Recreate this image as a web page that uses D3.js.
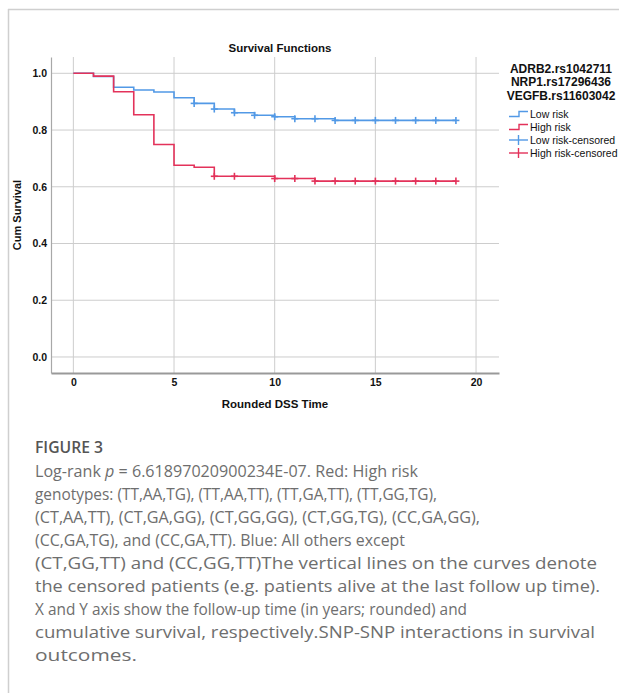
<!DOCTYPE html>
<html lang="en">
<head>
<meta charset="UTF-8">
<title>Survival Functions</title>
<script src="https://d3js.org/d3.v7.min.js"></script>
<style>
    body { margin: 0; background: #fff; }
    svg { display: block; }
</style>
</head>
<body>
<div id="chart"></div>
<script>
    // Kaplan-Meier steps (time, cumulative survival)
    const lowTimes = [0, 1, 2, 3, 4, 5, 6, 7, 8, 9, 10, 11, 13];
    const lowSurv = [1.0, 0.989, 0.951, 0.941, 0.934, 0.914, 0.894, 0.874, 0.861, 0.852, 0.847, 0.840, 0.834];
    const highTimes = [0, 1, 2, 3, 4, 5, 6, 7, 10, 12];
    const highSurv = [1.0, 0.990, 0.935, 0.854, 0.749, 0.676, 0.669, 0.637, 0.629, 0.620];
    const lastTime = 19;

    // censored observations (times)
    const lowCensored = [6, 7, 8, 9, 10, 11, 12, 13, 14, 15, 16, 17, 18, 19];
    const highCensored = [7, 8, 10, 11, 12, 13, 14, 15, 16, 17, 18, 19];

    const xTicks = [0, 5, 10, 15, 20];
    const yTicks = [0.0, 0.2, 0.4, 0.6, 0.8, 1.0];

    const legendTitle = ["ADRB2.rs1042711", "NRP1.rs17296436", "VEGFB.rs11603042"];
    const legendLabels = ["Low risk", "High risk", "Low risk-censored", "High risk-censored"];

    const caption = [
        ["Log-rank ", {i: "p"}, " = 6.61897020900234E-07. Red: High risk"],
        ["genotypes: (TT,AA,TG), (TT,AA,TT), (TT,GA,TT), (TT,GG,TG),"],
        ["(CT,AA,TT), (CT,GA,GG), (CT,GG,GG), (CT,GG,TG), (CC,GA,GG),"],
        ["(CC,GA,TG), and (CC,GA,TT). Blue: All others except"],
        ["(CT,GG,TT) and (CC,GG,TT)The vertical lines on the curves denote"],
        ["the censored patients (e.g. patients alive at the last follow up time)."],
        ["X and Y axis show the follow-up time (in years; rounded) and"],
        ["cumulative survival, respectively.SNP-SNP interactions in survival"],
        ["outcomes."]
    ];
    // rendered width of each caption line in the original layout
    const captionWidths = [383, 402, 445, 370, 562, 565, 432, 560, 102];

    const blue = "#5299e6";
    const red = "#e3325a";
    const grid = "#cdcdcd";

    const W = 619, H = 693;
    const svg = d3.select("#chart").append("svg")
        .attr("width", W).attr("height", H);

    // card border (top + left)
    svg.append("line").attr("x1", 8).attr("x2", W).attr("y1", 9.5).attr("y2", 9.5)
        .attr("stroke", "#cfcfcf").attr("stroke-width", 1.5);
    svg.append("line").attr("x1", 8.5).attr("x2", 8.5).attr("y1", 9).attr("y2", H)
        .attr("stroke", "#cfcfcf").attr("stroke-width", 1.5);

    // plot area
    const pLeft = 51, pRight = 499, pTop = 57, pBottom = 373;
    const x = d3.scaleLinear().domain([-1.11, 21.14]).range([pLeft, pRight]);
    const y = d3.scaleLinear().domain([-0.0565, 1.0575]).range([pBottom, pTop]);

    const g = svg.append("g");

    // grid
    g.selectAll(".vgrid").data(xTicks).enter().append("line")
        .attr("x1", d => x(d)).attr("x2", d => x(d))
        .attr("y1", pTop).attr("y2", pBottom)
        .attr("stroke", grid).attr("stroke-width", 1);
    g.selectAll(".hgrid").data(yTicks).enter().append("line")
        .attr("x1", pLeft).attr("x2", pRight)
        .attr("y1", d => y(d)).attr("y2", d => y(d))
        .attr("stroke", grid).attr("stroke-width", 1);

    // axes
    const yAxis = g.append("g").attr("transform", `translate(${pLeft},0)`)
        .call(d3.axisLeft(y).tickValues(yTicks).tickFormat(d3.format(".1f")).tickSize(0).tickPadding(4));
    const xAxis = g.append("g").attr("transform", `translate(0,${pBottom})`)
        .call(d3.axisBottom(x).tickValues(xTicks).tickSize(0).tickPadding(6));
    [xAxis, yAxis].forEach(a => {
        a.selectAll("text").attr("font-family", "Liberation Sans, Arial, sans-serif")
            .attr("font-size", 10.5).attr("font-weight", "bold").attr("fill", "#111");
    });
    yAxis.select(".domain").attr("stroke", "#a8a8a8").attr("stroke-width", 1.2);
    xAxis.select(".domain").attr("stroke", "#999").attr("stroke-width", 1.8);

    // curves
    const line = d3.line().x(d => x(d[0])).y(d => y(d[1])).curve(d3.curveStepAfter);
    function steps(times, surv) {
        const pts = times.map((t, i) => [t, surv[i]]);
        pts.push([lastTime, surv[surv.length - 1]]);
        return pts;
    }
    function survAt(times, surv, t) {
        let s = surv[0];
        times.forEach((tt, i) => { if (tt <= t) s = surv[i]; });
        return s;
    }

    const groups = [
        {times: lowTimes, surv: lowSurv, cens: lowCensored, color: blue},
        {times: highTimes, surv: highSurv, cens: highCensored, color: red}
    ];

    groups.forEach(gr => {
        g.append("path").datum(steps(gr.times, gr.surv))
            .attr("d", line).attr("fill", "none")
            .attr("stroke", gr.color).attr("stroke-width", 1.6);
    });
    groups.forEach(gr => {
        const marks = g.selectAll(null).data(gr.cens).enter().append("g")
            .attr("transform", d => `translate(${x(d)},${y(survAt(gr.times, gr.surv, d))})`);
        marks.append("line").attr("x1", 0).attr("x2", 0).attr("y1", -3.5).attr("y2", 3.5)
            .attr("stroke", gr.color).attr("stroke-width", 1.6);
        marks.append("line").attr("x1", -3.5).attr("x2", 3.5).attr("y1", 0).attr("y2", 0)
            .attr("stroke", gr.color).attr("stroke-width", 1.6);
    });

    // titles
    const bold = {"font-family": "Liberation Sans, Arial, sans-serif", "font-weight": "bold", "fill": "#111"};
    function setAttrs(sel, o) { Object.keys(o).forEach(k => sel.attr(k, o[k])); return sel; }

    setAttrs(svg.append("text"), bold).attr("x", 280).attr("y", 52)
        .attr("text-anchor", "middle").attr("font-size", 11.5).text("Survival Functions");
    setAttrs(svg.append("text"), bold).attr("x", 275).attr("y", 408)
        .attr("text-anchor", "middle").attr("font-size", 11.5).text("Rounded DSS Time");
    setAttrs(svg.append("text"), bold)
        .attr("transform", `translate(21,${(pTop + pBottom) / 2}) rotate(-90)`)
        .attr("text-anchor", "middle").attr("font-size", 11).text("Cum Survival");

    // legend
    const lg = svg.append("g");
    legendTitle.forEach((t, i) => {
        setAttrs(lg.append("text"), bold).attr("x", 561).attr("y", 73 + i * 13.3)
            .attr("text-anchor", "middle").attr("font-size", 12).text(t);
    });
    const lx0 = 509, lx1 = 528;
    const legendColors = [blue, red, blue, red];
    legendLabels.forEach((t, i) => {
        const cy = 114 + i * 13;
        const c = legendColors[i];
        if (i < 2) {
            lg.append("path")
                .attr("d", `M${lx0},${cy + 2.5}H${lx0 + 10}V${cy - 2.5}H${lx1}`)
                .attr("fill", "none").attr("stroke", c).attr("stroke-width", 1.4);
        } else {
            lg.append("line").attr("x1", lx0).attr("x2", lx1).attr("y1", cy).attr("y2", cy)
                .attr("stroke", c).attr("stroke-width", 1.4);
            lg.append("line").attr("x1", lx0 + 9.5).attr("x2", lx0 + 9.5).attr("y1", cy - 5).attr("y2", cy + 5)
                .attr("stroke", c).attr("stroke-width", 1.4);
        }
        lg.append("text").attr("x", 530).attr("y", cy + 3.8)
            .attr("font-family", "Liberation Sans, Arial, sans-serif")
            .attr("font-size", 10.5).attr("fill", "#111")
            .text(t);
    });

    // caption
    svg.append("text").attr("x", 35).attr("y", 453)
        .attr("font-family", "Open Sans, sans-serif").attr("font-size", 17)
        .attr("font-weight", 600).attr("fill", "#555")
        .attr("textLength", 68).attr("lengthAdjust", "spacingAndGlyphs").text("FIGURE 3");
    caption.forEach((parts, i) => {
        const t = svg.append("text").attr("x", 35).attr("y", 477 + i * 23)
            .attr("font-family", "Open Sans, sans-serif").attr("font-size", 17)
            .attr("fill", "#6e6e6e")
            .attr("textLength", captionWidths[i]).attr("lengthAdjust", "spacingAndGlyphs");
        parts.forEach(p => {
            if (typeof p === "string") t.append("tspan").text(p);
            else t.append("tspan").attr("font-style", "italic").text(p.i);
        });
    });
</script>
</body>
</html>
